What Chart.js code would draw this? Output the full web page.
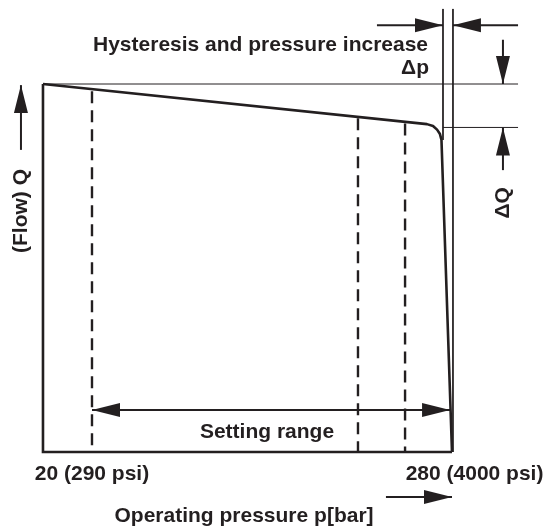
<!DOCTYPE html>
<html>
<head>
<meta charset="utf-8">
<script src="https://cdn.jsdelivr.net/npm/chart.js@4.4.1/dist/chart.umd.min.js"></script>
<style>
html, body { margin: 0; padding: 0; background: #fff; }
#wrap { width: 546px; height: 529px; }
</style>
</head>
<body>
<div id="wrap"><canvas id="flowChart" width="546" height="529"></canvas></div>
<script>
// pressure in bar (x), flow Q in % of max (y)
var framePressure = [-15.4, -15.4, 280];
var frameFlow = [100, 0, 0];

var curvePressure = [-15.4, 261.9, 266.3, 269.2, 271.3, 272.4, 280];
var curveFlow = [100, 89.1, 88.6, 87.6, 86.4, 84.8, 0];

// dashed setting lines: min setting, two intermediate settings
var settingPressure = [20, 212.1, 246.1];
var settingTopFlow = [98.0, 90.7, 89.3];

// hysteresis guides
var hystPressure = [273.5, 280.7];   // delta p
var hystFlow = [100, 88.2];          // delta Q
var guideEnd = 327.7;
var guideTop = 120.4;

var tickLabels = ['20 (290 psi)', '280 (4000 psi)'];

var ink = '#231f20';
var font = 'bold 21px "Liberation Sans", Arial, sans-serif';

function pts(xs, ys) {
    return xs.map(function(v, i) { return {x: v, y: ys[i]}; });
}

function line(data, width, extra) {
    var ds = {
        data: data,
        showLine: true,
        borderColor: ink,
        borderWidth: width,
        pointRadius: 0,
        fill: false,
        tension: 0
    };
    for (var k in extra) ds[k] = extra[k];
    return ds;
}

var datasets = [];

// frame + flow curve
datasets.push(line(pts(framePressure, frameFlow), 2.6, {borderJoinStyle: 'miter'}));
datasets.push(line(pts(curvePressure, curveFlow), 2.6, {borderJoinStyle: 'round'}));

// dashed setting lines
settingPressure.forEach(function(p, i) {
    datasets.push(line([{x: p, y: settingTopFlow[i]}, {x: p, y: 0}], 2.4, {borderDash: [12, 7]}));
});

// thin guides
datasets.push(line([{x: curvePressure[0], y: hystFlow[0]}, {x: guideEnd, y: hystFlow[0]}], 1));
datasets.push(line([{x: hystPressure[0], y: hystFlow[1]}, {x: guideEnd, y: hystFlow[1]}], 1));
datasets.push(line([{x: hystPressure[0], y: guideTop}, {x: hystPressure[0], y: 84.8}], 1));
datasets.push(line([{x: hystPressure[1], y: guideTop}, {x: hystPressure[1], y: 0}], 1));

// arrows (tail -> tip)
datasets.push(line([{x: 225.8, y: 116}, {x: hystPressure[0], y: 116}], 2, {arrowHeads: 'end'}));
datasets.push(line([{x: guideEnd, y: 116}, {x: hystPressure[1], y: 116}], 2, {arrowHeads: 'end'}));
datasets.push(line([{x: 316.8, y: 112}, {x: 316.8, y: hystFlow[0]}], 2, {arrowHeads: 'end'}));
datasets.push(line([{x: 316.8, y: 76.6}, {x: 316.8, y: hystFlow[1]}], 2, {arrowHeads: 'end'}));
datasets.push(line([{x: -31.3, y: 82.1}, {x: -31.3, y: 99.7}], 2, {arrowHeads: 'end'}));
datasets.push(line([{x: 20, y: 11.4}, {x: 278.6, y: 11.4}], 2, {arrowHeads: 'both'}));
datasets.push(line([{x: 232.3, y: -12.2}, {x: 280, y: -12.2}], 2, {arrowHeads: 'end'}));

var texts = [
    {t: 'Hysteresis and pressure increase', x: 262.7, y: 110.6, align: 'right'},
    {t: '\u0394p', x: 263.4, y: 104.3, align: 'right'},
    {t: '\u0394Q', x: 316.8, y: 67.7, align: 'center', rot: true},
    {t: '(Flow) Q', x: -31.3, y: 65.5, align: 'center', rot: true},
    {t: 'Setting range', x: 146.4, y: 5.4, align: 'center'},
    {t: tickLabels[0], x: 20, y: -6.0, align: 'center'},
    {t: tickLabels[1], x: 296.3, y: -6.0, align: 'center'},
    {t: 'Operating pressure p[bar]', x: 129.8, y: -17.4, align: 'center'}
];

function head(ctx, from, to) {
    var ang = Math.atan2(to.y - from.y, to.x - from.x);
    var len = 28, half = 7;
    ctx.save();
    ctx.translate(to.x, to.y);
    ctx.rotate(ang);
    ctx.beginPath();
    ctx.moveTo(0, 0);
    ctx.lineTo(-len, -half);
    ctx.lineTo(-len, half);
    ctx.closePath();
    ctx.fill();
    ctx.restore();
}

var sketchPlugin = {
    id: 'sketch',
    afterDatasetsDraw: function(chart) {
        var ctx = chart.ctx;
        var xs = chart.scales.x, ys = chart.scales.y;
        ctx.save();
        ctx.fillStyle = ink;
        chart.data.datasets.forEach(function(ds, i) {
            if (!ds.arrowHeads) return;
            var p = chart.getDatasetMeta(i).data;
            head(ctx, p[0], p[1]);
            if (ds.arrowHeads === 'both') head(ctx, p[1], p[0]);
        });
        ctx.font = font;
        ctx.textBaseline = 'middle';
        texts.forEach(function(l) {
            var px = xs.getPixelForValue(l.x), py = ys.getPixelForValue(l.y);
            ctx.save();
            ctx.translate(px, py);
            if (l.rot) ctx.rotate(-Math.PI / 2);
            ctx.textAlign = l.align;
            ctx.fillText(l.t, 0, 0);
            ctx.restore();
        });
        ctx.restore();
    }
};

new Chart(document.getElementById('flowChart').getContext('2d'), {
    type: 'scatter',
    data: {datasets: datasets},
    options: {
        responsive: false,
        animation: false,
        devicePixelRatio: 1,
        layout: {padding: 0},
        clip: false,
        plugins: {
            legend: {display: false},
            tooltip: {enabled: false}
        },
        scales: {
            x: {type: 'linear', display: false, min: -46.44, max: 347.89},
            y: {type: 'linear', display: false, min: -20.92, max: 122.83}
        }
    },
    plugins: [sketchPlugin]
});
</script>
</body>
</html>
